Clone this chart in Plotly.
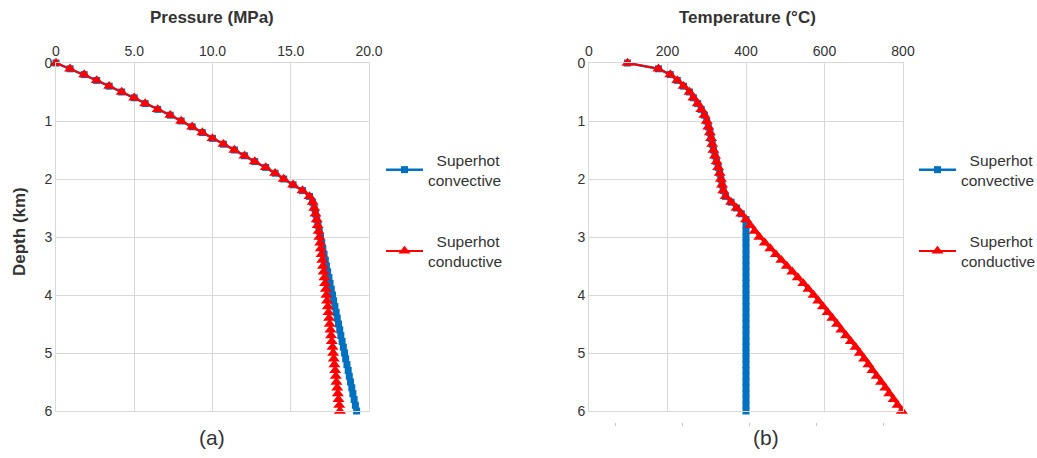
import plotly.graph_objects as go

# Depth below surface (km)
depth_km = [0.0, 0.1, 0.2, 0.3, 0.4, 0.5, 0.6, 0.7, 0.8, 0.9,
            1.0, 1.1, 1.2, 1.3, 1.4, 1.5, 1.6, 1.7, 1.8, 1.9,
            2.0, 2.1, 2.2, 2.3, 2.4, 2.5, 2.6, 2.7, 2.8, 2.9,
            3.0, 3.1, 3.2, 3.3, 3.4, 3.5, 3.6, 3.7, 3.8, 3.9,
            4.0, 4.1, 4.2, 4.3, 4.4, 4.5, 4.6, 4.7, 4.8, 4.9,
            5.0, 5.1, 5.2, 5.3, 5.4, 5.5, 5.6, 5.7, 5.8, 5.9, 6.0]

# Pressure (MPa)
pressure_convective = [0.0, 0.9, 1.8, 2.6, 3.4, 4.2, 5.0, 5.7, 6.5, 7.3,
                       8.0, 8.7, 9.35, 10.0, 10.7, 11.4, 12.05, 12.7, 13.4, 14.0,
                       14.55, 15.15, 15.75, 16.2, 16.4, 16.5, 16.58, 16.66, 16.74, 16.82,
                       16.90, 16.98, 17.05, 17.13, 17.21, 17.28, 17.36, 17.44, 17.51, 17.59,
                       17.67, 17.74, 17.82, 17.90, 17.97, 18.05, 18.13, 18.20, 18.28, 18.36,
                       18.44, 18.51, 18.59, 18.67, 18.74, 18.82, 18.90, 18.97, 19.05, 19.13, 19.21]
pressure_conductive = [0.0, 0.9, 1.8, 2.6, 3.4, 4.2, 5.0, 5.7, 6.5, 7.3,
                       8.0, 8.7, 9.35, 10.0, 10.7, 11.4, 12.05, 12.7, 13.4, 14.0,
                       14.55, 15.15, 15.75, 16.2, 16.4, 16.5, 16.58, 16.66, 16.72, 16.78,
                       16.83, 16.88, 16.92, 16.97, 17.01, 17.06, 17.10, 17.15, 17.19, 17.24,
                       17.28, 17.32, 17.37, 17.41, 17.45, 17.49, 17.54, 17.58, 17.62, 17.67,
                       17.71, 17.75, 17.79, 17.84, 17.88, 17.92, 17.97, 18.01, 18.05, 18.10, 18.14]

# Temperature (°C)
temperature_convective = [98, 177, 207, 225, 241, 256, 266, 277, 286, 294,
                          300, 304, 308, 311, 314, 317, 321, 325, 329, 333,
                          336, 339, 342, 348, 362, 376, 388, 400, 400, 400,
                          400, 400, 400, 400, 400, 400, 400, 400, 400, 400,
                          400, 400, 400, 400, 400, 400, 400, 400, 400, 400,
                          400, 400, 400, 400, 400, 400, 400, 400, 400, 400, 400]
temperature_conductive = [98, 177, 207, 225, 241, 256, 266, 277, 286, 294,
                          300, 304, 308, 311, 314, 317, 321, 325, 329, 333,
                          336, 339, 342, 348, 362, 376, 388, 400, 411, 422,
                          434, 448, 462, 476, 490, 504, 518, 532, 546, 559,
                          572, 584, 596, 608, 620, 632, 643, 655, 667, 679,
                          690, 701, 712, 722, 733, 744, 755, 765, 776, 786, 797]

series_names = ["\u00a0\u00a0Superhot<br>convective", "\u00a0\u00a0Superhot<br>conductive"]

pressure_ticks = [0, 5, 10, 15, 20]
pressure_ticktext = ["0", "5.0", "10.0", "15.0", "20.0"]
temperature_ticks = [0, 200, 400, 600, 800]
depth_ticks = [0, 1, 2, 3, 4, 5, 6]
stray_ticks = [1, 2, 3, 4, 5]

BLUE = "#0070C0"
RED = "#FF0000"
GRID = "#d9d9d9"
TEXT = "#333333"
FONT = "Arial, Liberation Sans, sans-serif"

W, H = 1037, 458


def px_x(v):
    return v / W


def px_y(v):
    return 1 - v / H


fig = go.Figure()

conv_style = dict(mode="lines+markers", line=dict(color=BLUE, width=2.5),
                  marker=dict(symbol="square", size=7, color=BLUE), cliponaxis=False)
cond_style = dict(mode="lines+markers", line=dict(color=RED, width=2),
                  marker=dict(symbol="triangle-up", size=10.5, color=RED), cliponaxis=False)

# (a) pressure profiles
fig.add_trace(go.Scatter(x=pressure_convective, y=depth_km, name=series_names[0],
                         xaxis="x", yaxis="y", legend="legend", legendgroup="a1", **conv_style))
fig.add_trace(go.Scatter(x=pressure_conductive, y=depth_km, name=series_names[1],
                         xaxis="x", yaxis="y", legend="legend", legendgroup="a2", **cond_style))

# (b) temperature profiles
fig.add_trace(go.Scatter(x=temperature_convective, y=depth_km, name=series_names[0],
                         xaxis="x2", yaxis="y2", legend="legend2", legendgroup="b1", **conv_style))
fig.add_trace(go.Scatter(x=temperature_conductive, y=depth_km, name=series_names[1],
                         xaxis="x2", yaxis="y2", legend="legend2", legendgroup="b2", **cond_style))

# carrier for the loose tick row beneath panel (b)
fig.add_trace(go.Scatter(x=[], y=[], xaxis="x3", yaxis="y3", showlegend=False, hoverinfo="skip"))

ydom = [px_y(411), px_y(63)]
common_axis = dict(showgrid=True, gridcolor=GRID, gridwidth=1, zeroline=False,
                   showline=True, linecolor=GRID, linewidth=1, mirror=True, ticks="",
                   automargin=False,
                   tickfont=dict(family=FONT, size=14, color=TEXT))

legend_common = dict(font=dict(family=FONT, size=15.5, color=TEXT), bgcolor="rgba(0,0,0,0)",
                     tracegroupgap=38, traceorder="grouped", itemwidth=37,
                     xanchor="left", yanchor="top")

fig.update_layout(
    width=W, height=H,
    margin=dict(l=0, r=0, t=0, b=0, autoexpand=False),
    paper_bgcolor="white", plot_bgcolor="white",
    font=dict(family=FONT, color=TEXT),
    xaxis=dict(domain=[px_x(56), px_x(369)], range=[0, 20], side="top", anchor="y",
               tickvals=pressure_ticks, ticktext=pressure_ticktext, **common_axis),
    yaxis=dict(domain=ydom, range=[6, 0], anchor="x", tickvals=depth_ticks, **common_axis),
    xaxis2=dict(domain=[px_x(589), px_x(903)], range=[0, 800], side="top", anchor="y2",
                tickvals=temperature_ticks, **common_axis),
    yaxis2=dict(domain=ydom, range=[6, 0], anchor="x2", tickvals=depth_ticks, **common_axis),
    xaxis3=dict(domain=[px_x(548), px_x(950)], range=[0, 6], anchor="y3",
                tickvals=stray_ticks, showticklabels=False, showgrid=False, zeroline=False,
                showline=False, ticks="outside", ticklen=3, tickcolor="#c8c8c8", tickwidth=1,
                automargin=False),
    yaxis3=dict(domain=[px_y(422), px_y(421)], range=[0, 1], anchor="x3", visible=False),
    legend=dict(x=px_x(381), y=px_y(143), **legend_common),
    legend2=dict(x=px_x(914), y=px_y(143), **legend_common),
    showlegend=True,
)

annotations = [
    dict(text="<b>Pressure (MPa)</b>", x=px_x(212), y=px_y(18), font=dict(size=17)),
    dict(text="<b>Temperature (°C)</b>", x=px_x(747), y=px_y(18), font=dict(size=17)),
    dict(text="<b>Depth (km)</b>", x=px_x(20), y=px_y(232), font=dict(size=17), textangle=-90),
    dict(text="(a)", x=px_x(212), y=px_y(437), font=dict(size=21)),
    dict(text="(b)", x=px_x(766), y=px_y(437), font=dict(size=21)),
]
for a in annotations:
    a["font"].update(family=FONT, color=TEXT)
    fig.add_annotation(xref="paper", yref="paper", showarrow=False,
                       xanchor="center", yanchor="middle", **a)

fig.write_html("out.html")
